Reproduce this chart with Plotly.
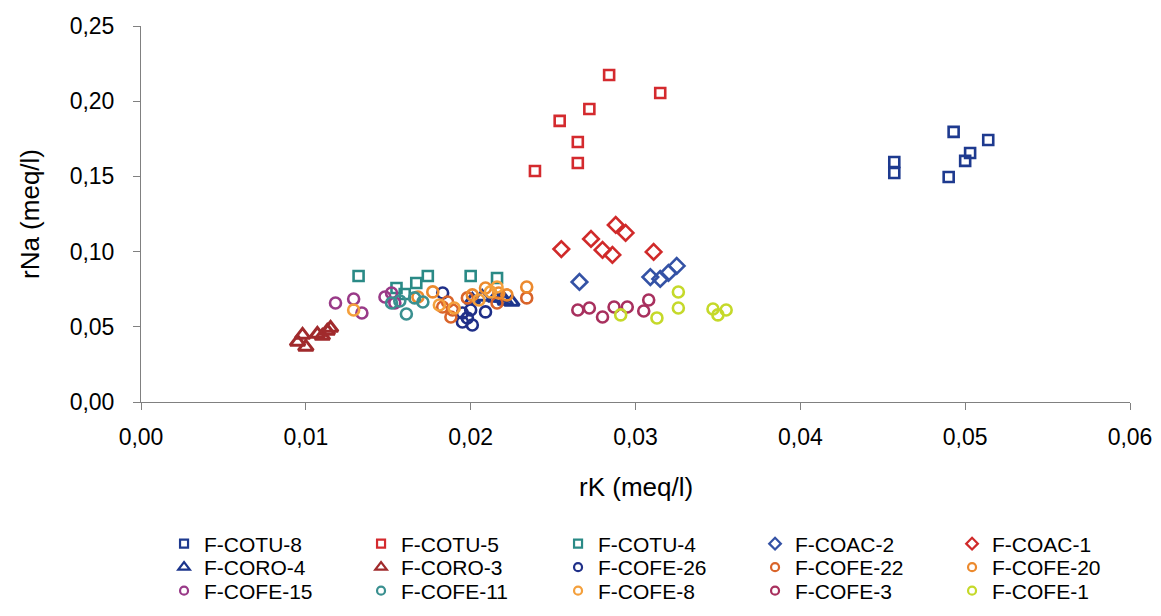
import plotly.graph_objects as go

# ---- data (rK, rNa in meq/l) ----
names = ["F-COTU-8", "F-COTU-5", "F-COTU-4", "F-COAC-2", "F-COAC-1",
         "F-CORO-4", "F-CORO-3", "F-COFE-26", "F-COFE-22", "F-COFE-20",
         "F-COFE-15", "F-COFE-11", "F-COFE-8", "F-COFE-3", "F-COFE-1"]

cotu8_x = [0.0457, 0.0457, 0.0493, 0.0514, 0.0503, 0.0500, 0.0490]
cotu8_y = [0.1596, 0.1523, 0.1796, 0.1742, 0.1656, 0.1603, 0.1496]

cotu5_x = [0.0284, 0.0315, 0.0272, 0.0254, 0.0265, 0.0265, 0.0239]
cotu5_y = [0.2174, 0.2055, 0.1948, 0.1869, 0.1729, 0.1589, 0.1536]

cotu4_x = [0.0132, 0.0155, 0.0160, 0.0167, 0.0174, 0.0200, 0.0216]
cotu4_y = [0.0838, 0.0758, 0.0718, 0.0791, 0.0838, 0.0838, 0.0824]

coac2_x = [0.0266, 0.0309, 0.0315, 0.0320, 0.0325]
coac2_y = [0.0798, 0.0831, 0.0818, 0.0858, 0.0905]

coac1_x = [0.0255, 0.0273, 0.0288, 0.0294, 0.0280, 0.0286, 0.0311]
coac1_y = [0.1017, 0.1084, 0.1177, 0.1124, 0.1011, 0.0978, 0.0998]

coro4_x = [0.0201, 0.0207, 0.0215, 0.0219, 0.0221, 0.0225]
coro4_y = [0.0678, 0.0698, 0.0692, 0.0692, 0.0672, 0.0665]

coro3_x = [0.0095, 0.0098, 0.0100, 0.0107, 0.0110, 0.0113, 0.0115]
coro3_y = [0.0399, 0.0446, 0.0366, 0.0452, 0.0439, 0.0472, 0.0492]

cofe26_x = [0.0183, 0.0195, 0.0198, 0.0201, 0.0209, 0.0195, 0.0200]
cofe26_y = [0.0725, 0.0592, 0.0559, 0.0512, 0.0599, 0.0532, 0.0612]

cofe22_x = [0.0186, 0.0189, 0.0188, 0.0216, 0.0234, 0.0183, 0.0198]
cofe22_y = [0.0665, 0.0612, 0.0565, 0.0658, 0.0692, 0.0632, 0.0692]

cofe20_x = [0.0168, 0.0177, 0.0201, 0.0209, 0.0217, 0.0222, 0.0234]
cofe20_y = [0.0698, 0.0732, 0.0712, 0.0758, 0.0725, 0.0712, 0.0765]

cofe15_x = [0.0118, 0.0129, 0.0134, 0.0148, 0.0152, 0.0154]
cofe15_y = [0.0658, 0.0685, 0.0592, 0.0698, 0.0725, 0.0658]

cofe11_x = [0.0152, 0.0157, 0.0161, 0.0166, 0.0171]
cofe11_y = [0.0658, 0.0672, 0.0585, 0.0692, 0.0665]

cofe8_x = [0.0129, 0.0216, 0.0181, 0.0190, 0.0205, 0.0212]
cofe8_y = [0.0612, 0.0765, 0.0645, 0.0625, 0.0678, 0.0732]

cofe3_x = [0.0265, 0.0272, 0.0280, 0.0287, 0.0295, 0.0305, 0.0308]
cofe3_y = [0.0612, 0.0625, 0.0565, 0.0632, 0.0632, 0.0605, 0.0678]

cofe1_x = [0.0291, 0.0313, 0.0326, 0.0326, 0.0347, 0.0350, 0.0355]
cofe1_y = [0.0579, 0.0559, 0.0731, 0.0625, 0.0618, 0.0579, 0.0612]

x_ticks = [0.00, 0.01, 0.02, 0.03, 0.04, 0.05, 0.06]
y_ticks = [0.00, 0.05, 0.10, 0.15, 0.20, 0.25]

xs = [cotu8_x, cotu5_x, cotu4_x, coac2_x, coac1_x, coro4_x, coro3_x, cofe26_x,
      cofe22_x, cofe20_x, cofe15_x, cofe11_x, cofe8_x, cofe3_x, cofe1_x]
ys = [cotu8_y, cotu5_y, cotu4_y, coac2_y, coac1_y, coro4_y, coro3_y, cofe26_y,
      cofe22_y, cofe20_y, cofe15_y, cofe11_y, cofe8_y, cofe3_y, cofe1_y]

colors = ["#1E3A8F", "#D42A2E", "#2A8A86", "#3452A5", "#D02A2A",
          "#1C358C", "#A02A2C", "#1F2F88", "#D9642A", "#EC8A2E",
          "#993A88", "#3A9090", "#F4A03C", "#A8305E", "#C5D92A"]
symbols = ["square-open", "square-open", "square-open", "diamond-open", "diamond-open",
           "triangle-up-open", "triangle-up-open", "circle-open", "circle-open", "circle-open",
           "circle-open", "circle-open", "circle-open", "circle-open", "circle-open"]
plot_size = {"square-open": 10, "diamond-open": 12, "triangle-up-open": 13, "circle-open": 11}
leg_size = {"square-open": 8, "diamond-open": 9, "triangle-up-open": 10, "circle-open": 8}

FONT = "Liberation Sans, Arial, sans-serif"

fig = go.Figure()
for n, x, y, c, s in zip(names, xs, ys, colors, symbols):
    fig.add_trace(go.Scatter(
        x=x, y=y, mode="markers", name=n, showlegend=False,
        marker=dict(symbol=s, size=plot_size[s], color=c,
                    line=dict(color=c, width=2.6 if s != "triangle-up-open" else 3)),
    ))

# legend-only entries (smaller symbols like the reference legend), 5 per row
legend_ids = ["legend", "legend2", "legend3"]
for i, (n, c, s) in enumerate(zip(names, colors, symbols)):
    fig.add_trace(go.Scatter(
        x=[None], y=[None], mode="markers", name=n, showlegend=True,
        legend=legend_ids[i // 5],
        marker=dict(symbol=s, size=leg_size[s], color=c, line=dict(color=c, width=2.2)),
    ))

axis_common = dict(
    showgrid=False, zeroline=False, showline=True, linecolor="#808080", linewidth=1,
    ticks="outside", ticklen=7, tickcolor="#808080", tickwidth=1,
    tickfont=dict(family=FONT, size=23, color="#000000"),
    tickformat=".2f",
)
fig.update_xaxes(range=[0, 0.06], tickmode="array", tickvals=x_ticks,
                 ticklabelstandoff=7, **axis_common)
fig.update_yaxes(range=[0, 0.25], tickmode="array", tickvals=y_ticks,
                 ticklabelstandoff=14, **axis_common)

H_PLOT = 376.0
def py(pix):
    return (402 - pix) / H_PLOT

leg_common = dict(orientation="h", x=0.0233, xanchor="left", yanchor="middle",
                  font=dict(family=FONT, size=21, color="#000000"),
                  entrywidth=152, entrywidthmode="pixels", itemwidth=30,
                  tracegroupgap=0, bgcolor="rgba(0,0,0,0)", borderwidth=0)

fig.update_layout(
    width=1161, height=616,
    margin=dict(l=141, r=31, t=26, b=214, autoexpand=False),
    paper_bgcolor="white", plot_bgcolor="white",
    separators=", ",
    showlegend=True,
    legend=dict(y=py(544), **leg_common),
    legend2=dict(y=py(567.5), **leg_common),
    legend3=dict(y=py(591), **leg_common),
    annotations=[
        dict(text="rK (meq/l)", xref="paper", yref="paper", x=0.5, y=py(487),
             xanchor="center", yanchor="middle", showarrow=False,
             font=dict(family=FONT, size=26, color="#000000")),
        dict(text="rNa (meq/l)", xref="paper", yref="paper", x=(30 - 141) / 989.0, y=py(214),
             xanchor="center", yanchor="middle", showarrow=False, textangle=-90,
             font=dict(family=FONT, size=26, color="#000000")),
    ],
)

fig.write_html("out.html")
